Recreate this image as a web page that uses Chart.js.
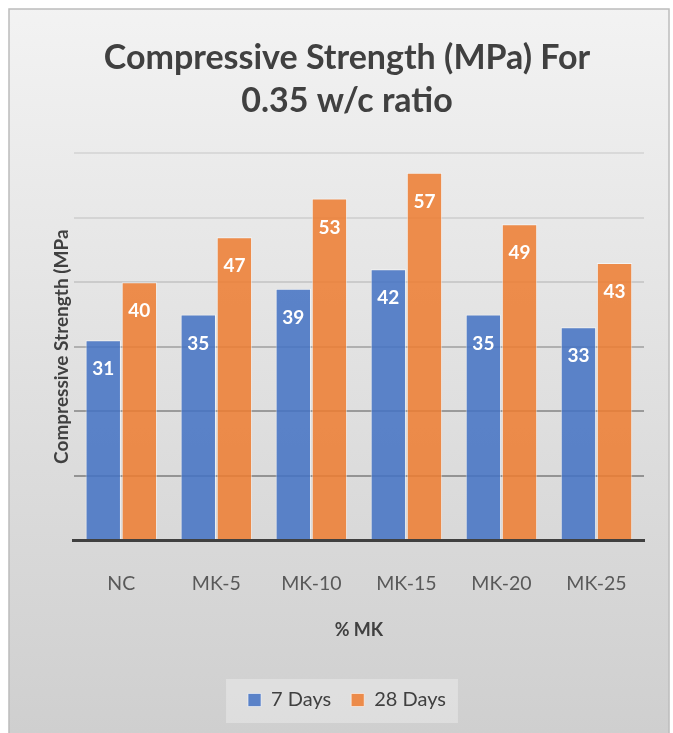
<!DOCTYPE html>
<html>
<head>
<meta charset="utf-8">
<script src="https://cdn.jsdelivr.net/npm/chart.js@4/dist/chart.umd.min.js"></script>
<style>
  html, body { margin: 0; padding: 0; background: #ffffff; }
  #wrap { width: 673px; height: 733px; position: relative; }
</style>
</head>
<body>
<div id="wrap"><canvas id="chart"></canvas></div>
<script>
/* ----------------------------- */
/* DATA                          */
/* ----------------------------- */
const categories = ["NC", "MK-5", "MK-10", "MK-15", "MK-20", "MK-25"];
const days7 = [31, 35, 39, 42, 35, 33];
const days28 = [40, 47, 53, 57, 49, 43];
const seriesNames = ["7 Days", "28 Days"];
const chartTitle = ["Compressive Strength (MPa) For", "0.35 w/c ratio"];
const yTitle = "Compressive Strength (MPa";
const xTitle = "% MK";

const FONT = "Lato, 'Open Sans', sans-serif";

/* ----------------------------- */
/* PLUGINS                       */
/* ----------------------------- */
const backgroundPlugin = {
  id: "frameBackground",
  beforeDraw: (chart) => {
    const { ctx, width, height } = chart;
    ctx.save();
    const grad = ctx.createLinearGradient(0, 0, 0, height);
    grad.addColorStop(0, "#f3f3f3");
    grad.addColorStop(1, "#cfcfcf");
    ctx.fillStyle = "#ffffff";
    ctx.fillRect(0, 0, width, height);
    ctx.fillStyle = grad;
    ctx.fillRect(9, 9, 660, height - 9);
    ctx.strokeStyle = "#bcbcbc";
    ctx.lineWidth = 1.5;
    ctx.strokeRect(9, 9, 660, height - 8);
    // legend box around the items only
    const boxes = chart.legend ? chart.legend.legendHitBoxes : [];
    if (boxes && boxes.length) {
      const left = Math.min(...boxes.map((b) => b.left));
      const right = Math.max(...boxes.map((b) => b.left + b.width));
      const mid = boxes[0].top + boxes[0].height / 2;
      ctx.fillStyle = "rgba(255,255,255,0.3)";
      ctx.fillRect(left - 22, mid - 21, right - left + 34, 44);
    }
    ctx.restore();
  },
};

const valueLabelPlugin = {
  id: "valueLabels",
  afterDatasetsDraw: (chart) => {
    const { ctx } = chart;
    ctx.save();
    ctx.font = "bold 19px " + FONT;
    ctx.fillStyle = "#ffffff";
    ctx.textAlign = "center";
    ctx.textBaseline = "middle";
    chart.data.datasets.forEach((ds, i) => {
      chart.getDatasetMeta(i).data.forEach((bar, j) => {
        ctx.fillText(String(ds.data[j]), bar.x, bar.y + 29);
      });
    });
    ctx.restore();
  },
};

/* ----------------------------- */
/* CHART                         */
/* ----------------------------- */
const gridColors = ["rgba(0,0,0,0)", "#939393", "#9a9a9a", "#b0b0b0", "#cbcbcb", "#d4d4d4", "#d9d9d9"];

new Chart(document.getElementById("chart"), {
  type: "bar",
  data: {
    labels: categories,
    datasets: [
      {
        label: seriesNames[0],
        data: days7,
        backgroundColor: "rgba(68,114,196,0.86)",
        borderColor: "rgba(255,255,255,0.55)",
        borderWidth: 1,
        categoryPercentage: 0.76,
        barPercentage: 0.98,
      },
      {
        label: seriesNames[1],
        data: days28,
        backgroundColor: "rgba(237,125,49,0.86)",
        borderColor: "rgba(255,255,255,0.55)",
        borderWidth: 1,
        categoryPercentage: 0.76,
        barPercentage: 0.98,
      },
    ],
  },
  options: {
    responsive: true,
    maintainAspectRatio: false,
    animation: false,
    layout: { padding: { left: 50, right: 29, top: 36, bottom: 13 } },
    plugins: {
      title: {
        display: true,
        text: chartTitle,
        color: "#404040",
        font: { family: FONT, size: 34, weight: "bold", lineHeight: 1.27 },
        padding: { top: 0, bottom: 31 },
      },
      legend: {
        position: "bottom",
        labels: {
          color: "#404040",
          font: { family: FONT, size: 20 },
          boxWidth: 13,
          boxHeight: 13,
          padding: 20,
        },
      },
      tooltip: { enabled: false },
    },
    scales: {
      x: {
        grid: { display: false },
        border: { display: true, color: "#404040", width: 3 },
        ticks: {
          color: "#595959",
          font: { family: FONT, size: 19.5 },
          padding: 24,
        },
        title: {
          display: true,
          text: xTitle,
          color: "#404040",
          font: { family: FONT, size: 18, weight: "bold" },
          padding: { top: 0, bottom: 29 },
        },
      },
      y: {
        min: 0,
        max: 60,
        ticks: { display: false, stepSize: 10 },
        border: { display: false },
        grid: {
          drawTicks: false,
          lineWidth: 2,
          color: (c) => gridColors[c.index] || "#d9d9d9",
        },
        title: {
          display: true,
          text: yTitle,
          color: "#404040",
          font: { family: FONT, size: 19, weight: "bold" },
          padding: { top: 0, bottom: 1 },
        },
      },
    },
  },
  plugins: [backgroundPlugin, valueLabelPlugin],
});
</script>
</body>
</html>
